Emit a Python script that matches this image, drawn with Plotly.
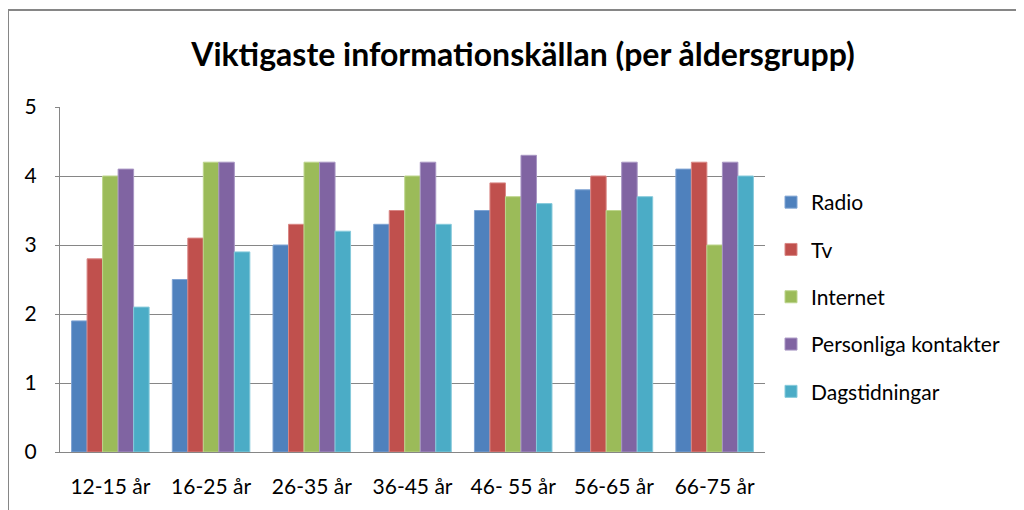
import plotly.graph_objects as go

categories = ["12-15 år", "16-25 år", "26-35 år", "36-45 år", "46- 55 år", "56-65 år", "66-75 år"]
radio = [1.9, 2.5, 3.0, 3.3, 3.5, 3.8, 4.1]
tv = [2.8, 3.1, 3.3, 3.5, 3.9, 4.0, 4.2]
internet = [4.0, 4.2, 4.2, 4.0, 3.7, 3.5, 3.0]
personliga = [4.1, 4.2, 4.2, 4.2, 4.3, 4.2, 4.2]
dagstidningar = [2.1, 2.9, 3.2, 3.3, 3.6, 3.7, 4.0]
y_ticks = [0, 1, 2, 3, 4, 5]

series = [
    ("Radio", radio, "#4F81BD", "#7FA3D3"),
    ("Tv", tv, "#C0504D", "#D98785"),
    ("Internet", internet, "#9BBB59", "#BDD58C"),
    ("Personliga kontakter", personliga, "#8064A2", "#A896C4"),
    ("Dagstidningar", dagstidningar, "#4BACC6", "#86CADB"),
]

# page body has an 8px margin; compensate
OFF = 8
W, H = 1024, 510
L, T = 60 - OFF, 107 - OFF
R = W - (765 - OFF)
B = H - (452 - OFF)
pw, ph = W - L - R, H - T - B

FONT = "Lato, 'Open Sans', sans-serif"

fig = go.Figure()
for i, (name, vals, col, edge) in enumerate(series):
    fig.add_trace(go.Bar(
        x=categories, y=vals, name=name,
        marker=dict(color=col, line=dict(color=edge, width=1)),
        legendgroup=f"g{i}",
    ))

# outer chart border (top and left visible)
bx = (8 - OFF - L) / pw
by = 1 + (T - (10 - OFF)) / ph
fig.add_shape(type="line", xref="paper", yref="paper", x0=bx, x1=(W + 20 - L) / pw, y0=by, y1=by,
              line=dict(color="#868686", width=2))
fig.add_shape(type="line", xref="paper", yref="paper", x0=bx, x1=bx, y0=by, y1=-(B + 20) / ph,
              line=dict(color="#868686", width=2))

fig.update_layout(
    width=W, height=H,
    margin=dict(l=L, r=R, t=T, b=B),
    paper_bgcolor="white", plot_bgcolor="white",
    barmode="group", bargap=0.23, bargroupgap=0,
    font=dict(family=FONT, size=21, color="#000000"),
    title=dict(text="<b>Viktigaste informationskällan (per åldersgrupp)</b>",
               x=(523 - OFF) / W, xanchor="center", y=1 - (55 - OFF) / H, yanchor="middle",
               font=dict(family=FONT, size=32, color="#000000")),
    legend=dict(x=(771 - OFF - L) / pw, xanchor="left", y=1 - (182 - OFF - T) / ph, yanchor="top",
                traceorder="grouped", tracegroupgap=17,
                font=dict(family=FONT, size=21, color="#000000"),
                itemwidth=30, bgcolor="rgba(0,0,0,0)"),
    showlegend=True,
)
fig.update_yaxes(range=[0, 5], tickvals=y_ticks, showgrid=True, gridcolor="#868686", gridwidth=1,
                 showline=True, linecolor="#868686", linewidth=1, ticks="outside", ticklen=4,
                 tickcolor="#868686", zeroline=False, fixedrange=True, ticklabelstandoff=14,
                 tickfont=dict(family=FONT, size=21, color="#000000"))
fig.update_xaxes(showline=True, linecolor="#868686", linewidth=1, ticks="", showgrid=False,
                 ticklabelstandoff=16,
                 tickfont=dict(family=FONT, size=21, color="#000000"), fixedrange=True)

fig.write_html("out.html", config={"displayModeBar": False})
